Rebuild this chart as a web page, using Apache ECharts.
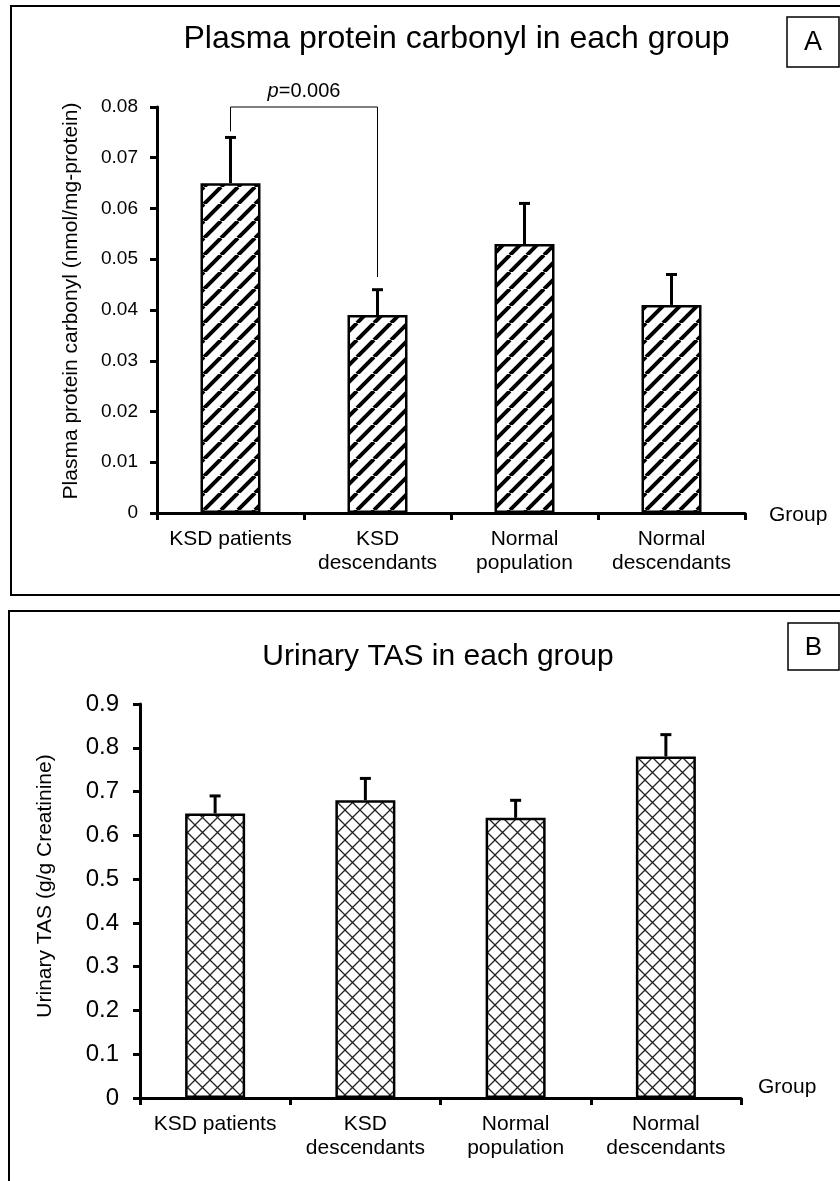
<!DOCTYPE html>
<html><head><meta charset="utf-8">
<script src="https://cdn.jsdelivr.net/npm/echarts@6/dist/echarts.min.js"></script>
<style>html,body{margin:0;padding:0;background:#fff}#c{width:840px;height:1181px}</style>
</head><body><div id="c"></div>
<script>
// ---- data ----
const categories = ['KSD patients', 'KSD\ndescendants', 'Normal\npopulation', 'Normal\ndescendants'];
const carbonylMean = [0.065, 0.039, 0.053, 0.041];
const carbonylErr = [0.009, 0.005, 0.008, 0.006];
const tasMean = [0.65, 0.68, 0.64, 0.78];
const tasErr = [0.04, 0.05, 0.04, 0.05];
const carbonylAxis = { min: 0, max: 0.08, interval: 0.01 };
const tasAxis = { min: 0, max: 0.9, interval: 0.1 };
const sigPair = [0, 1];
const sigLevel = 0.08;
const sigEnds = [0.0752, 0.0465];
const sigLabel = 'p=0.006';
const titleA = 'Plasma protein carbonyl in each group';
const titleB = 'Urinary TAS in each group';
const yNameA = 'Plasma protein carbonyl (nmol/mg-protein)';
const yNameB = 'Urinary TAS (g/g Creatinine)';
const xName = 'Group';

const FONT = '"Liberation Sans", Arial, sans-serif';

function stripePattern() {
  const P = 17, c = document.createElement('canvas');
  c.width = P; c.height = P;
  const g = c.getContext('2d');
  g.fillStyle = '#fff'; g.fillRect(0, 0, P, P);
  g.strokeStyle = '#000'; g.lineWidth = 4.0;
  g.beginPath();
  for (const o of [-P, 0, P]) { g.moveTo(o, P); g.lineTo(o + P, 0); }
  g.stroke();
  return c;
}
function crossPattern() {
  const P = 15, c = document.createElement('canvas');
  c.width = P; c.height = P;
  const g = c.getContext('2d');
  g.fillStyle = '#fff'; g.fillRect(0, 0, P, P);
  g.strokeStyle = '#222'; g.lineWidth = 1.3;
  g.beginPath();
  for (const o of [-P, 0, P]) {
    g.moveTo(o, P); g.lineTo(o + P, 0);
    g.moveTo(o, 0); g.lineTo(o + P, P);
  }
  g.stroke();
  return c;
}

function errSeries(gi, means, errs) {
  return {
    type: 'custom', xAxisIndex: gi, yAxisIndex: gi, z: 3,
    data: means.map((m, i) => [i, m, errs[i]]),
    renderItem: (params, api) => {
      const i = api.value(0), m = api.value(1), e = api.value(2);
      const p0 = api.coord([i, m]), p1 = api.coord([i, m + e]);
      return { type: 'group', children: [
        { type: 'line', shape: { x1: p0[0], y1: p0[1], x2: p1[0], y2: p1[1] }, style: { stroke: '#000', lineWidth: 3 } },
        { type: 'line', shape: { x1: p1[0] - 5.5, y1: p1[1], x2: p1[0] + 5.5, y2: p1[1] }, style: { stroke: '#000', lineWidth: 3 } }
      ] };
    }
  };
}

function xAxisCfg(gi) {
  return {
    type: 'category', gridIndex: gi, data: categories, boundaryGap: true,
    axisLine: { lineStyle: { color: '#000', width: 3 } },
    axisTick: { show: true, alignWithLabel: false, length: 7, lineStyle: { color: '#000', width: 3 } },
    axisLabel: { interval: 0, color: '#000', fontSize: 21, lineHeight: 24, margin: 14, fontFamily: FONT },
    splitLine: { show: false }
  };
}
function yAxisCfg(gi, ax, fs, margin, dec) {
  return {
    type: 'value', gridIndex: gi, min: ax.min, max: ax.max, interval: ax.interval,
    axisLine: { show: true, lineStyle: { color: '#000', width: 3 } },
    axisTick: { show: true, length: 7, lineStyle: { color: '#000', width: 3 } },
    axisLabel: { color: '#000', fontSize: fs, margin: margin, fontFamily: FONT,
      formatter: v => (Math.abs(v) < 1e-9 ? '0' : v.toFixed(dec)) },
    splitLine: { show: false }
  };
}

const chart = echarts.init(document.getElementById('c'), null, { renderer: 'canvas' });
chart.setOption({
  animation: false,
  backgroundColor: '#fff',
  textStyle: { fontFamily: FONT },
  grid: [
    { left: 157, top: 107, width: 588, height: 406 },
    { left: 140, top: 704, width: 601, height: 394 }
  ],
  xAxis: [xAxisCfg(0), xAxisCfg(1)],
  yAxis: [yAxisCfg(0, carbonylAxis, 19, 19, 2), yAxisCfg(1, tasAxis, 24, 21, 1)],
  series: [
    { type: 'bar', xAxisIndex: 0, yAxisIndex: 0, data: carbonylMean, barWidth: 60,
      itemStyle: { color: { image: stripePattern(), repeat: 'repeat' }, borderColor: '#000', borderWidth: 2.5 } },
    errSeries(0, carbonylMean, carbonylErr),
    { type: 'bar', xAxisIndex: 1, yAxisIndex: 1, data: tasMean, barWidth: 60,
      itemStyle: { color: { image: crossPattern(), repeat: 'repeat' }, borderColor: '#000', borderWidth: 2.5 } },
    errSeries(1, tasMean, tasErr),
    { type: 'custom', xAxisIndex: 0, yAxisIndex: 0, z: 4, data: [[sigPair[0], sigLevel]],
      renderItem: (params, api) => {
        const pL = api.coord([sigPair[0], sigLevel]), pR = api.coord([sigPair[1], sigLevel]);
        const dL = api.coord([sigPair[0], sigEnds[0]]), dR = api.coord([sigPair[1], sigEnds[1]]);
        return { type: 'group', children: [
          { type: 'polyline', shape: { points: [[dL[0], dL[1]], [pL[0], pL[1]], [pR[0], pR[1]], [dR[0], dR[1]]] },
            style: { stroke: '#000', lineWidth: 1, fill: null } },
          { type: 'text', x: (pL[0] + pR[0]) / 2, y: pL[1] - 6,
            style: { text: '{i|' + sigLabel.charAt(0) + '}' + sigLabel.slice(1), fill: '#000', font: '20px ' + FONT,
              align: 'center', verticalAlign: 'bottom',
              rich: { i: { fontStyle: 'italic', fontSize: 20, fontFamily: FONT, fill: '#000' } } } }
        ] };
      }
    }
  ],
  graphic: [
    { type: 'rect', shape: { x: 11, y: 6, width: 840, height: 589 }, style: { fill: null, stroke: '#000', lineWidth: 2 } },
    { type: 'rect', shape: { x: 9, y: 611, width: 840, height: 620 }, style: { fill: null, stroke: '#000', lineWidth: 2 } },
    { type: 'rect', shape: { x: 787, y: 17, width: 52, height: 50 }, style: { fill: '#fff', stroke: '#000', lineWidth: 1.5 } },
    { type: 'rect', shape: { x: 788, y: 623, width: 51, height: 47 }, style: { fill: '#fff', stroke: '#000', lineWidth: 1.5 } },
    { type: 'text', x: 813, y: 43, style: { text: 'A', font: '27px ' + FONT, fill: '#000', align: 'center', verticalAlign: 'middle' } },
    { type: 'text', x: 813.5, y: 648, style: { text: 'B', font: '26px ' + FONT, fill: '#000', align: 'center', verticalAlign: 'middle' } },
    { type: 'text', x: 456.5, y: 39, style: { text: titleA, font: '32px ' + FONT, fill: '#000', align: 'center', verticalAlign: 'middle' } },
    { type: 'text', x: 438, y: 657, style: { text: titleB, font: '30px ' + FONT, fill: '#000', align: 'center', verticalAlign: 'middle' } },
    { type: 'text', x: 71.5, y: 301, rotation: Math.PI / 2, style: { text: yNameA, font: '21px ' + FONT, fill: '#000', align: 'center', verticalAlign: 'middle' } },
    { type: 'text', x: 45, y: 886, rotation: Math.PI / 2, style: { text: yNameB, font: '21px ' + FONT, fill: '#000', align: 'center', verticalAlign: 'middle' } },
    { type: 'text', x: 769, y: 515, style: { text: xName, font: '21px ' + FONT, fill: '#000', align: 'left', verticalAlign: 'middle' } },
    { type: 'text', x: 758, y: 1087, style: { text: xName, font: '21px ' + FONT, fill: '#000', align: 'left', verticalAlign: 'middle' } }
  ]
});
</script>
</body></html>
